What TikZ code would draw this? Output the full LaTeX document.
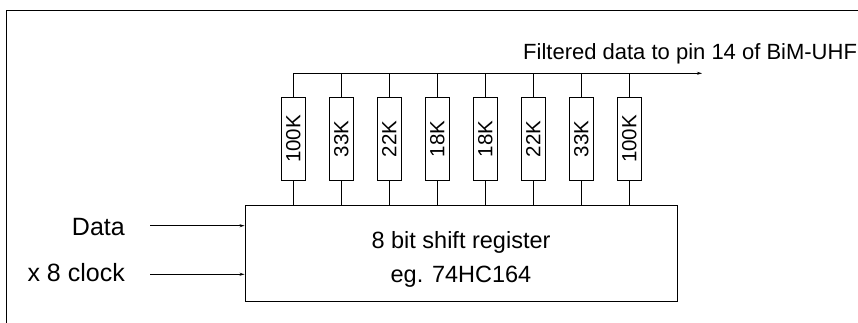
\documentclass[tikz,border=0pt]{standalone}
\usepackage{fontspec}
\setmainfont{Liberation Sans}
\usepackage{graphicx}
\usetikzlibrary{arrows.meta}
\begin{document}
\begin{tikzpicture}[x=1pt,y=-1pt,
  wire/.style={line width=0.9pt,black},
  frame/.style={line width=1.2pt,black},
  resbox/.style={draw,line width=0.9pt,minimum width=23.7pt,minimum height=83.4pt,inner sep=0pt,font=\fontsize{20.5pt}{23pt}\selectfont},
  regbox/.style={draw,line width=0.9pt,inner sep=0pt},
  toplabel/.style={inner sep=0pt,font=\fontsize{22pt}{26pt}\selectfont},
  reglabel/.style={inner sep=0pt,font=\fontsize{23.5pt}{28pt}\selectfont},
  inlabel/.style={inner sep=0pt,font=\fontsize{25pt}{30pt}\selectfont},
  arr/.style={-{Stealth[length=5pt,width=3pt]}}
]
\useasboundingbox (0,0) rectangle (858,323);
% frame (top and left edges)
\coordinate (fTL) at (6.7,10.7);
\coordinate (fTR) at (858,10.7);
\coordinate (fBL) at (6.7,323);
\draw[frame] (fTR) -- (fTL) -- (fBL);

% register
\node[regbox,minimum width=432pt,minimum height=96pt] (reg) at (461,253) {};
\node[reglabel,anchor=base] (regA) at (461,248) {8 bit shift register};
\node[reglabel,anchor=base] (regB) at (461,282) {eg. 74HC164};

% resistors
\foreach \i/\v in {0/100K,1/33K,2/22K,3/18K,4/18K,5/22K,6/33K,7/100K}{
  \node[resbox] (r\i) at ({293.3+48*\i},139) {\rotatebox{90}{\v}};
}
% bus
\coordinate (busL) at (293.3,73.3);
\coordinate (busR) at (702,73.3);
\draw[wire,arr] (busL) -- (busR);
\node[toplabel,anchor=base west] (out) at (523,60) {Filtered data to pin 14 of BiM-UHF};
\foreach \i in {0,...,7}{
  \draw[wire] (r\i.north) -- (r\i.north |- busL);
  \draw[wire] (r\i.south) -- (r\i.south |- reg.north);
}

% inputs
\node[inlabel,anchor=base east] (data) at (125,235) {Data};
\node[inlabel,anchor=base east] (clk) at (125,281) {x 8 clock};
\coordinate (dataS) at (150,225.7);
\coordinate (clkS) at (150,274.3);
\draw[wire,arr] (dataS) -- (dataS -| reg.west);
\draw[wire,arr] (clkS) -- (clkS -| reg.west);
\end{tikzpicture}
\end{document}
